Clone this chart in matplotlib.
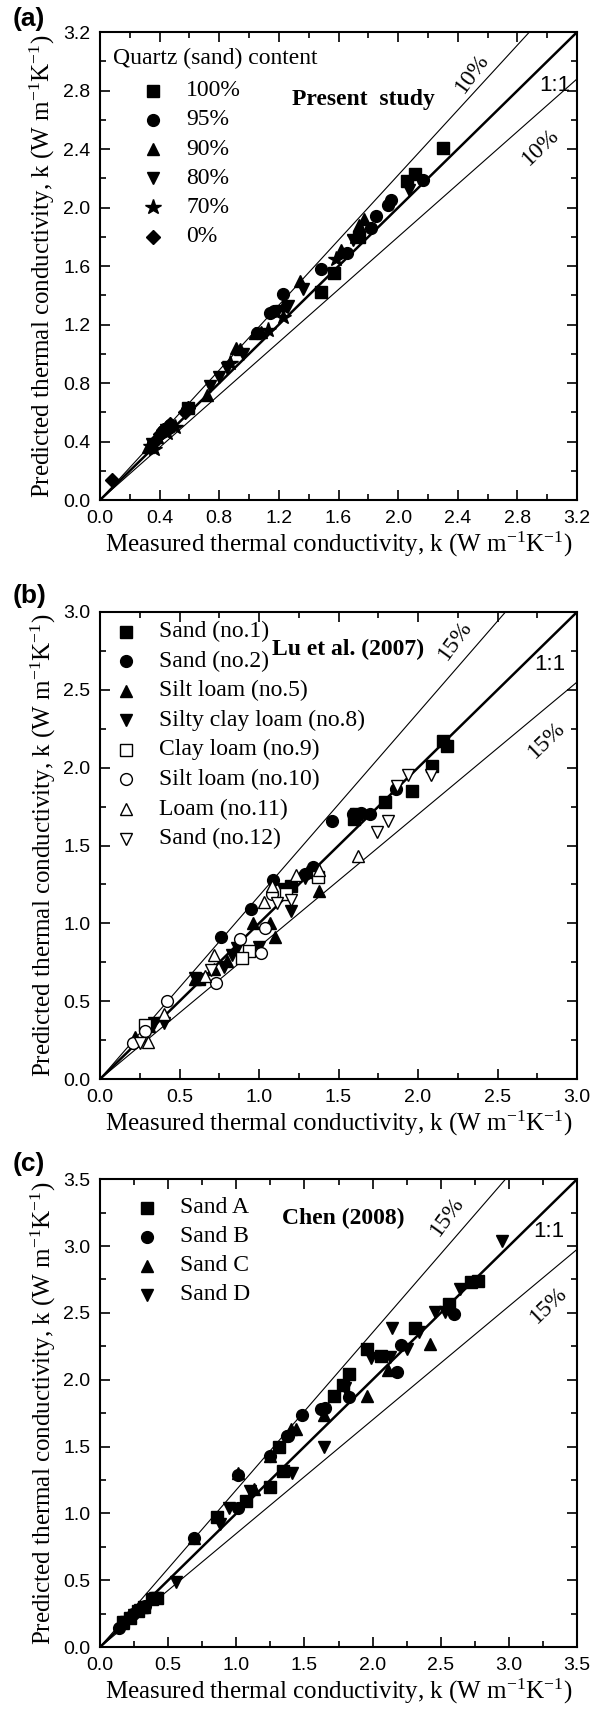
import matplotlib.pyplot as plt
import numpy as np
from matplotlib.ticker import MultipleLocator, FormatStrFormatter

plt.rcParams['font.family'] = 'Liberation Sans'
plt.rcParams['mathtext.fontset'] = 'custom'
plt.rcParams['mathtext.rm'] = 'Liberation Serif'
plt.rcParams['mathtext.it'] = 'Liberation Serif:italic'

SERIF = 'Liberation Serif'

# ---- (a) present study, by quartz content ----
a_labels = ['100%', '95%', '90%', '80%', '70%', '0%']
a_markers = ['s', 'o', '^', 'v', '*', 'D']
a_x = [
    [2.30, 2.11, 2.06, 1.57, 1.48, 1.74, 0.59],
    [2.17, 1.95, 1.93, 1.85, 1.82, 1.66, 1.48, 1.23, 1.17, 1.14, 1.05, 0.47, 0.42],
    [1.77, 1.74, 1.62, 1.34, 1.04, 1.08, 0.91, 0.94, 0.72, 0.32, 0.38],
    [2.07, 1.70, 1.36, 1.26, 0.96, 0.85, 0.80, 0.74, 0.44, 0.35],
    [1.71, 1.58, 1.23, 1.23, 1.13, 0.87, 0.34, 0.36, 0.45, 0.50],
    [0.08, 0.59, 0.57, 0.47, 0.42, 0.40, 0.36],
]
a_y = [
    [2.41, 2.23, 2.18, 1.55, 1.42, 1.80, 0.63],
    [2.19, 2.05, 2.02, 1.94, 1.86, 1.69, 1.58, 1.41, 1.29, 1.28, 1.14, 0.51, 0.47],
    [1.92, 1.88, 1.71, 1.50, 1.14, 1.15, 1.04, 1.03, 0.72, 0.36, 0.43],
    [2.12, 1.78, 1.44, 1.33, 1.00, 0.90, 0.84, 0.78, 0.48, 0.38],
    [1.80, 1.65, 1.32, 1.25, 1.16, 0.94, 0.37, 0.35, 0.46, 0.50],
    [0.14, 0.63, 0.60, 0.52, 0.48, 0.45, 0.40],
]

# ---- (b) Lu et al. (2007) ----
b_labels = ['Sand (no.1)', 'Sand (no.2)', 'Silt loam (no.5)', 'Silty clay loam (no.8)',
            'Clay loam (no.9)', 'Silt loam (no.10)', 'Loam (no.11)', 'Sand (no.12)']
b_markers = ['s', 'o', '^', 'v', 's', 'o', '^', 'v']
b_filled = [True, True, True, True, False, False, False, False]
b_x = [
    [2.16, 2.18, 2.09, 1.96, 1.79, 1.61, 1.60, 1.20, 0.62],
    [1.46, 1.59, 1.64, 1.70, 1.86, 1.34, 1.29, 1.09, 0.95, 0.76],
    [1.38, 1.10, 1.07, 0.96, 0.60, 0.72, 0.22, 1.30, 0.80, 0.31],
    [1.20, 1.29, 1.00, 0.83, 0.78, 0.60, 0.34, 0.40, 1.15, 0.86],
    [1.17, 1.37, 0.94, 0.89, 0.28],
    [1.08, 1.04, 0.88, 1.01, 0.73, 0.42, 0.28, 0.21],
    [1.62, 1.38, 1.23, 1.08, 1.03, 0.72, 0.40, 0.30, 0.66],
    [1.94, 1.87, 2.08, 1.81, 1.74, 1.11, 1.20, 0.25, 0.70],
]
b_y = [
    [2.17, 2.14, 2.01, 1.85, 1.78, 1.70, 1.67, 1.24, 0.64],
    [1.66, 1.70, 1.71, 1.70, 1.86, 1.36, 1.32, 1.28, 1.09, 0.91],
    [1.21, 0.91, 1.00, 1.00, 0.64, 0.71, 0.27, 1.33, 0.76, 0.34],
    [1.08, 1.29, 0.85, 0.80, 0.72, 0.65, 0.36, 0.36, 1.22, 0.84],
    [1.19, 1.30, 0.82, 0.78, 0.35],
    [1.19, 0.97, 0.90, 0.81, 0.62, 0.50, 0.31, 0.23],
    [1.43, 1.34, 1.31, 1.24, 1.14, 0.80, 0.42, 0.24, 0.66],
    [1.95, 1.88, 1.95, 1.66, 1.59, 1.13, 1.15, 0.23, 0.70],
]

# ---- (c) Chen (2008) ----
c_labels = ['Sand A', 'Sand B', 'Sand C', 'Sand D']
c_markers = ['s', 'o', '^', 'v']
c_x = [
    [2.77, 2.72, 2.56, 2.31, 1.96, 2.06, 1.83, 1.78, 1.72, 1.31, 1.34, 1.25, 1.07, 0.86,
     0.42, 0.38, 0.28, 0.17, 0.32, 0.22],
    [2.60, 2.21, 2.18, 1.83, 1.62, 1.65, 1.48, 1.37, 1.38, 1.25, 1.01, 1.01, 0.69, 0.33,
     0.14, 0.24],
    [2.42, 2.11, 1.96, 1.64, 1.40, 1.44, 1.25, 1.13, 0.69, 0.22, 0.31, 1.01, 0.17],
    [2.95, 2.64, 2.46, 2.53, 2.34, 2.14, 2.25, 1.99, 2.13, 1.80, 1.64, 1.41, 1.10, 0.95,
     0.88, 0.56, 0.40, 0.25, 0.19, 0.29],
]
c_y = [
    [2.74, 2.73, 2.57, 2.39, 2.23, 2.18, 2.04, 1.96, 1.88, 1.50, 1.32, 1.20, 1.09, 0.97,
     0.37, 0.36, 0.27, 0.19, 0.30, 0.22],
    [2.49, 2.26, 2.06, 1.87, 1.78, 1.79, 1.74, 1.58, 1.58, 1.43, 1.29, 1.04, 0.82, 0.31,
     0.14, 0.25],
    [2.27, 2.07, 1.88, 1.74, 1.63, 1.63, 1.43, 1.18, 0.82, 0.23, 0.30, 1.30, 0.18],
    [3.04, 2.68, 2.51, 2.51, 2.36, 2.39, 2.23, 2.16, 2.17, 1.94, 1.50, 1.30, 1.17, 1.04,
     0.92, 0.49, 0.37, 0.24, 0.19, 0.28],
]

XLABEL = 'Measured thermal conductivity, k (W m$^{-1}$K$^{-1}$)'
YLABEL = 'Predicted thermal conductivity, k (W m$^{-1}$K$^{-1}$)'


def msize(m):
    return 11.5 if m == '*' else (7.5 if m == 'D' else 8.5)


def draw_panel(ax, xs, ys, markers, labels, filled, top, major, pct,
               study, study_xy, one_xy, up_xy, lo_xy,
               leg_mx, leg_tx, leg_y, leg_dy, leg_title=None):
    line = np.array([0, top])
    ax.plot(line, line, color='k', lw=1.8, zorder=2)
    ax.plot(line, line / (1 - pct), color='k', lw=0.8, zorder=2)
    ax.plot(line, line * (1 - pct), color='k', lw=0.8, zorder=2)

    for x, y, m, f in zip(xs, ys, markers, filled):
        ax.plot(x, y, linestyle='none', marker=m, ms=msize(m),
                mfc='k' if f else 'white', mec='k', mew=1.0, zorder=3)

    ax.set_xlim(0, top)
    ax.set_ylim(0, top)
    for axis in (ax.xaxis, ax.yaxis):
        axis.set_major_locator(MultipleLocator(major))
        axis.set_minor_locator(MultipleLocator(major / 2))
        axis.set_major_formatter(FormatStrFormatter('%.1f'))
    ax.tick_params(which='both', direction='in', top=True, right=True, width=1.2)
    ax.tick_params(which='major', length=7.5, pad=7, labelsize=14)
    ax.tick_params(which='minor', length=4)
    for s in ax.spines.values():
        s.set_linewidth(1.5)

    ax.set_xlabel(XLABEL, family=SERIF, fontsize=18, labelpad=2)
    ax.set_ylabel(YLABEL, family=SERIF, fontsize=18, labelpad=4)

    ax.text(*study_xy, study, transform=ax.transAxes, family=SERIF,
            fontweight='bold', fontsize=17, va='center', ha='left')
    ax.text(*one_xy, '1:1', transform=ax.transAxes, fontsize=16,
            va='center', ha='center')
    ptxt = '%d%%' % round(pct * 100)
    ax.text(*up_xy, ptxt, transform=ax.transAxes, family=SERIF, fontsize=17,
            rotation=54, va='center', ha='center')
    ax.text(*lo_xy, ptxt, transform=ax.transAxes, family=SERIF, fontsize=17,
            rotation=44, va='center', ha='center')

    if leg_title:
        ax.text(leg_tx[0], leg_tx[1], leg_title, transform=ax.transAxes,
                family=SERIF, fontsize=17, va='center', ha='left')
    for i, (m, lab, f) in enumerate(zip(markers, labels, filled)):
        yy = leg_y - i * leg_dy
        ax.plot([leg_mx], [yy], marker=m, ms=msize(m), linestyle='none',
                mfc='k' if f else 'white', mec='k', mew=1.0,
                transform=ax.transAxes, clip_on=False)
        ax.text(leg_mx + leg_tx[2], yy, lab, transform=ax.transAxes,
                family=SERIF, fontsize=17, va='center', ha='left')


fig = plt.figure(figsize=(5.9, 17.09), dpi=100)

ax_a = fig.add_axes([0.1695, 0.7074, 0.8085, 0.2738])
draw_panel(ax_a, a_x, a_y, a_markers, a_labels, [True] * 6, 3.2, 0.4, 0.10,
           'Present  study', (0.403, 0.855), (0.954, 0.887),
           (0.78, 0.912), (0.924, 0.754),
           0.111, (0.027, 0.944, 0.07), 0.875, 0.0624,
           leg_title='Quartz (sand) content')

ax_b = fig.add_axes([0.1695, 0.3686, 0.8085, 0.2733])
draw_panel(ax_b, b_x, b_y, b_markers, b_labels, b_filled, 3.0, 0.5, 0.15,
           'Lu et al. (2007)', (0.361, 0.919), (0.943, 0.887),
           (0.744, 0.94), (0.936, 0.726),
           0.055, (0.0, 0.0, 0.068), 0.958, 0.0633)

ax_c = fig.add_axes([0.1695, 0.0362, 0.8085, 0.2738])
draw_panel(ax_c, c_x, c_y, c_markers, c_labels, [True] * 4, 3.5, 0.5, 0.15,
           'Chen (2008)', (0.382, 0.917), (0.94, 0.889),
           (0.727, 0.921), (0.94, 0.731),
           0.0985, (0.0, 0.0, 0.07), 0.9395, 0.062)

for lab, yc in [('(a)', 19), ('(b)', 596), ('(c)', 1164)]:
    fig.text(0.022, 1 - yc / 1709, lab, fontsize=19, fontweight='bold',
             va='center', ha='left')

fig.savefig('out.png', dpi=100)
